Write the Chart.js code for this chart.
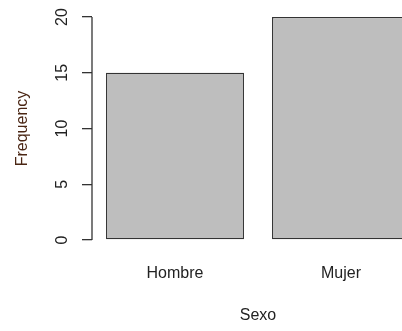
<!DOCTYPE html>
<html lang="es">
<head>
    <meta charset="UTF-8">
    <title>Sexo</title>
    <style>
        html, body { margin: 0; padding: 0; background: white; overflow: hidden; }
        .caixa { width: 424px; height: 331px; }
    </style>
</head>
<body>
    <div class="caixa">
        <canvas id="grafico" width="424" height="331"></canvas>
    </div>
    <script src="https://cdn.jsdelivr.net/npm/chart.js"></script>
    <script>
        var categorias = ['Hombre', 'Mujer'];
        var frecuencias = [15, 20];
        var ticksY = [0, 5, 10, 15, 20];

        // etiquetas del eje y giradas, como en R
        var etiquetasY = {
            id: 'etiquetasY',
            afterDraw: function (chart) {
                var ctx = chart.ctx;
                var y = chart.scales.y;
                ctx.save();
                ctx.fillStyle = '#222';
                ctx.font = '16px "Liberation Sans", Arial, sans-serif';
                ctx.textAlign = 'center';
                ctx.textBaseline = 'middle';
                for (var i = 0; i < ticksY.length; i++) {
                    var py = y.getPixelForValue(ticksY[i]);
                    ctx.save();
                    ctx.translate(63, py);
                    ctx.rotate(-Math.PI / 2);
                    ctx.fillText(String(ticksY[i]), 0, 0);
                    ctx.restore();
                }
                ctx.restore();
            }
        };

        // linea del eje y solo de 0 a 20
        var lineaEje = {
            id: 'lineaEje',
            afterDraw: function (chart) {
                var ctx = chart.ctx;
                var y = chart.scales.y;
                var x = chart.chartArea.left;
                ctx.save();
                ctx.strokeStyle = '#333333';
                ctx.lineWidth = 1.3;
                ctx.beginPath();
                ctx.moveTo(x, y.getPixelForValue(ticksY[0]));
                ctx.lineTo(x, y.getPixelForValue(ticksY[ticksY.length - 1]));
                ctx.stroke();
                ctx.restore();
            }
        };

        var grafico = new Chart(document.getElementById('grafico'), {
            type: 'bar',
            data: {
                labels: categorias,
                datasets: [{
                    data: frecuencias,
                    backgroundColor: '#bebebe',
                    borderColor: '#333333',
                    borderWidth: 1.3,
                    borderSkipped: false,
                    barPercentage: 0.831,
                    categoryPercentage: 1
                }]
            },
            plugins: [etiquetasY, lineaEje],
            options: {
                responsive: false,
                animation: false,
                layout: { padding: { top: 17, right: 0, left: 0, bottom: 0 } },
                plugins: {
                    legend: { display: false },
                    tooltip: { enabled: false }
                },
                scales: {
                    x: {
                        offset: true,
                        afterFit: function (s) { s.height = 91; },
                        grid: { display: false, drawTicks: false },
                        border: { display: false },
                        ticks: {
                            color: '#222',
                            font: { family: '"Liberation Sans", Arial, sans-serif', size: 16 },
                            padding: 24
                        },
                        title: {
                            display: true,
                            text: 'Sexo',
                            color: '#222',
                            font: { family: '"Liberation Sans", Arial, sans-serif', size: 16 },
                            padding: { top: 0, bottom: 6 }
                        }
                    },
                    y: {
                        min: 0,
                        max: 20,
                        afterFit: function (s) { s.width = 92; },
                        afterBuildTicks: function (s) {
                            s.ticks = ticksY.map(function (v) { return { value: v }; });
                        },
                        grid: {
                            drawOnChartArea: false,
                            drawTicks: true,
                            tickLength: 10,
                            color: '#333333',
                            lineWidth: 1.3
                        },
                        border: { display: false },
                        ticks: { display: false },
                        title: {
                            display: true,
                            text: 'Frequency',
                            color: '#4a2614',
                            font: { family: '"Liberation Sans", Arial, sans-serif', size: 16 },
                            padding: { top: 13, bottom: 0 }
                        }
                    }
                }
            }
        });
    </script>
</body>
</html>
